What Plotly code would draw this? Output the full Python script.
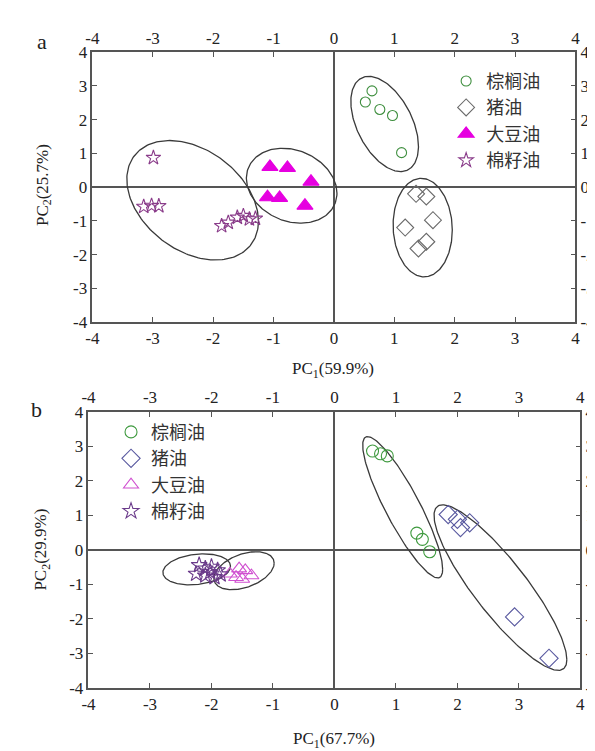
import numpy as np
import plotly.graph_objects as go

# ---------------- data ----------------
tick_vals = [-4, -3, -2, -1, 0, 1, 2, 3, 4]
tick_text = ["-4", "-3", "-2", "-1", "0", "1", "2", "3", "4"]
names = ["棕榈油", "猪油", "大豆油", "棉籽油"]

# panel a
a_palm_x = [0.63, 0.52, 0.76, 0.97, 1.12]
a_palm_y = [2.85, 2.52, 2.30, 2.12, 1.02]
a_lard_x = [1.36, 1.53, 1.64, 1.18, 1.53, 1.40]
a_lard_y = [-0.20, -0.28, -0.98, -1.20, -1.62, -1.82]
a_soy_x = [-1.06, -0.77, -0.38, -1.10, -0.90, -0.48]
a_soy_y = [0.60, 0.57, 0.16, -0.30, -0.32, -0.55]
a_cot_x = [-2.99, -3.15, -3.02, -2.90, -1.86, -1.75, -1.60, -1.50, -1.40, -1.30]
a_cot_y = [0.87, -0.58, -0.55, -0.56, -1.15, -1.05, -0.90, -0.85, -0.95, -0.93]
# ellipses: centre x, centre y, half-width, half-height, correlation
a_ell_cx = [0.84, 1.47, -0.70, -2.34]
a_ell_cy = [1.87, -1.20, 0.04, -0.39]
a_ell_sx = [0.56, 0.49, 0.75, 1.09]
a_ell_sy = [1.41, 1.46, 1.11, 1.77]
a_ell_r = [-0.47, -0.05, -0.20, -0.35]

# panel b
b_palm_x = [0.62, 0.75, 0.86, 1.34, 1.43, 1.55]
b_palm_y = [2.86, 2.78, 2.72, 0.48, 0.30, -0.06]
b_lard_x = [1.85, 2.00, 2.20, 2.05, 2.93, 3.49]
b_lard_y = [1.02, 0.88, 0.78, 0.64, -1.95, -3.15]
b_soy_x = [-1.70, -1.55, -1.45, -1.60, -1.35, -1.50]
b_soy_y = [-0.70, -0.55, -0.60, -0.80, -0.75, -0.85]
b_cot_x = [-2.20, -2.10, -2.00, -1.90, -2.25, -2.10, -1.95, -2.02, -1.85]
b_cot_y = [-0.45, -0.55, -0.50, -0.60, -0.70, -0.75, -0.80, -0.65, -0.72]
b_ell_cx = [1.11, 2.70, -1.47, -2.24]
b_ell_cy = [1.23, -1.10, -0.61, -0.57]
b_ell_sx = [0.65, 1.08, 0.49, 0.55]
b_ell_sy = [2.05, 2.40, 0.55, 0.45]
b_ell_r = [-0.876, -0.87, 0.40, 0.20]

SERIF = "Liberation Serif"
CJK = "Noto Sans CJK SC"

W, H = 595, 751


def px(p):
    return p / W


def py(p):
    return 1 - p / H


def ellipse(cx, cy, sx, sy, r, n=200):
    cov = np.array([[sx * sx, r * sx * sy], [r * sx * sy, sy * sy]])
    L = np.linalg.cholesky(cov)
    t = np.linspace(0, 2 * np.pi, n)
    pts = L @ np.vstack([np.cos(t), np.sin(t)])
    return pts[0] + cx, pts[1] + cy


fig = go.Figure()

# ellipses
for xa, ya, cxs, cys, sxs, sys_, rs in [
    ("x", "y", a_ell_cx, a_ell_cy, a_ell_sx, a_ell_sy, a_ell_r),
    ("x2", "y2", b_ell_cx, b_ell_cy, b_ell_sx, b_ell_sy, b_ell_r),
]:
    for cx, cy, sx, sy, r in zip(cxs, cys, sxs, sys_, rs):
        ex, ey = ellipse(cx, cy, sx, sy, r)
        fig.add_trace(go.Scatter(x=ex, y=ey, mode="lines", xaxis=xa, yaxis=ya,
                                 line=dict(color="#3a3a3a", width=1.3),
                                 showlegend=False, hoverinfo="skip"))

# panel a points
a_series = [
    (a_palm_x, a_palm_y, "circle-open", 10, "#3f8f3f"),
    (a_lard_x, a_lard_y, "diamond-open", 13, "#6a6a6a"),
    (a_soy_x, a_soy_y, "triangle-up", 14, "#e600e0"),
    (a_cot_x, a_cot_y, "star-open", 11, "#8a3c8a"),
]
for (xs, ys, sym, sz, col), nm in zip(a_series, names):
    fig.add_trace(go.Scatter(x=xs, y=ys, mode="markers", name=nm, xaxis="x", yaxis="y",
                             legend="legend",
                             marker=dict(symbol=sym, size=sz, color=col,
                                         line=dict(color=col, width=1.1))))

# panel b points
b_series = [
    (b_palm_x, b_palm_y, "circle-open", 12, "#3f9a3f"),
    (b_lard_x, b_lard_y, "diamond-open", 14, "#5a5aa0"),
    (b_soy_x, b_soy_y, "triangle-up-open", 13, "#d050d0"),
    (b_cot_x, b_cot_y, "star-open", 12, "#6a3a8a"),
]
for (xs, ys, sym, sz, col), nm in zip(b_series, names):
    fig.add_trace(go.Scatter(x=xs, y=ys, mode="markers", name=nm, xaxis="x2", yaxis="y2",
                             legend="legend2",
                             marker=dict(symbol=sym, size=sz, color=col,
                                         line=dict(color=col, width=1.1))))

# dummy traces to show the mirrored labelled axes
fig.add_trace(go.Scatter(x=[None], y=[None], xaxis="x3", yaxis="y3", showlegend=False, hoverinfo="skip"))
fig.add_trace(go.Scatter(x=[None], y=[None], xaxis="x4", yaxis="y4", showlegend=False, hoverinfo="skip"))

ax_dom = [px(79), px(572)]
ay_dom = [py(313), py(36)]
bx_dom = [px(75), px(577)]
by_dom = [py(688), py(405)]

tickfont = dict(family=SERIF, size=17, color="#222")


def axis(**kw):
    d = dict(range=[-4, 4], tickvals=tick_vals, ticktext=tick_text, ticks="inside",
             ticklen=5, tickwidth=1.2, tickcolor="#555", showgrid=False,
             showline=True, linecolor="#555", linewidth=1.5, tickfont=tickfont,
             zeroline=False, fixedrange=True)
    d.update(kw)
    return d


fig.update_layout(
    width=W, height=H, margin=dict(l=0, r=0, t=0, b=0),
    paper_bgcolor="white", plot_bgcolor="white", hovermode=False,
    xaxis=axis(domain=ax_dom, anchor="y", zeroline=True, zerolinecolor="#555", zerolinewidth=1.5),
    yaxis=axis(domain=ay_dom, anchor="x", zeroline=True, zerolinecolor="#555", zerolinewidth=1.5),
    xaxis3=axis(overlaying="x", anchor="y", side="top"),
    yaxis3=axis(overlaying="y", anchor="x", side="right"),
    xaxis2=axis(domain=bx_dom, anchor="y2", zeroline=True, zerolinecolor="#555", zerolinewidth=1.5),
    yaxis2=axis(domain=by_dom, anchor="x2", zeroline=True, zerolinecolor="#555", zerolinewidth=1.5),
    xaxis4=axis(overlaying="x2", anchor="y2", side="top"),
    yaxis4=axis(overlaying="y2", anchor="x2", side="right"),
    legend=dict(x=px(440), y=py(47), xanchor="left", yanchor="top",
                font=dict(family=CJK, size=18, color="#333"), bgcolor="rgba(0,0,0,0)",
                tracegroupgap=0),
    legend2=dict(x=px(98), y=py(407), xanchor="left", yanchor="top",
                 font=dict(family=CJK, size=18, color="#333"), bgcolor="rgba(0,0,0,0)",
                 tracegroupgap=0),
)


def label(x, y, text, size=17, angle=0):
    fig.add_annotation(x=px(x), y=py(y), xref="paper", yref="paper", xanchor="center",
                       yanchor="middle", text=text, showarrow=False, textangle=angle,
                       font=dict(family=SERIF, size=size, color="#222"))


label(325, 362, "PC<sub>1</sub>(59.9%)")
label(29, 172, "PC<sub>2</sub>(25.7%)", angle=-90)
label(326, 742, "PC<sub>1</sub>(67.7%)")
label(28, 546, "PC<sub>2</sub>(29.9%)", angle=-90)
label(28, 25, "a", size=22)
label(22, 403, "b", size=22)

fig.write_html("out.html")
